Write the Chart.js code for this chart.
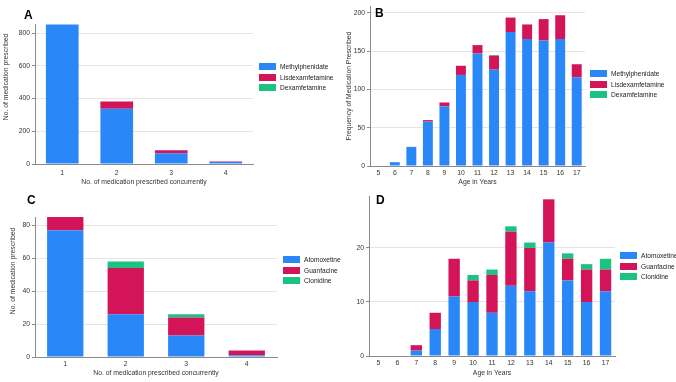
<!DOCTYPE html>
<html>
<head>
<meta charset="utf-8">
<script src="https://cdn.jsdelivr.net/npm/chart.js@4/dist/chart.umd.min.js"></script>
<style>
  body { margin: 0; background: #fff; width: 676px; height: 382px; overflow: hidden; position: relative;
         font-family: "Liberation Sans", Arial, sans-serif; }
  .panel { position: absolute; }
  .tag { position: absolute; font: bold 12px "Liberation Sans", Arial, sans-serif; color: #000; }
  .legend { position: absolute; font-size: 6.6px; color: #222; }
  .legend div { height: 10.5px; line-height: 7px; white-space: nowrap; }
  .legend span { display: inline-block; width: 17px; height: 7px; vertical-align: top; margin-right: 4px; }
  .ytitle { position: absolute; font-size: 6.8px; color: #333; white-space: nowrap;
            transform: translate(-50%, -50%) rotate(-90deg); }
</style>
</head>
<body>
<div class="panel" style="left:0;top:0"><canvas id="chartA" width="338" height="190"></canvas></div>
<div class="panel" style="left:338px;top:0"><canvas id="chartB" width="338" height="190"></canvas></div>
<div class="panel" style="left:0;top:190px"><canvas id="chartC" width="338" height="192"></canvas></div>
<div class="panel" style="left:338px;top:190px"><canvas id="chartD" width="338" height="192"></canvas></div>

<div class="tag" style="left:24px;top:8px">A</div>
<div class="tag" style="left:375px;top:6px">B</div>
<div class="tag" style="left:27px;top:193px">C</div>
<div class="tag" style="left:376px;top:193px">D</div>

<div class="ytitle" style="left:5px;top:77px">No. of medication prescribed</div>
<div class="ytitle" style="left:12px;top:271px">No. of medication prescribed</div>

<div class="legend" id="legA" style="left:259px;top:63px"></div>
<div class="legend" id="legB" style="left:590px;top:70px"></div>
<div class="legend" id="legC" style="left:283px;top:256px"></div>
<div class="legend" id="legD" style="left:620px;top:252px"></div>

<script>
// colours
var BLUE = '#2a87f7', RED = '#d41459', GREEN = '#1cc27f';

// A: number of stimulant medications prescribed concurrently
var countCats = ['1', '2', '3', '4'];
var methylA = [852, 337, 65, 12];
var lisdexA = [0, 45, 19, 3];
var dexA = [0, 0, 0, 1];

// B: stimulants by age
var ages = ['5', '6', '7', '8', '9', '10', '11', '12', '13', '14', '15', '16', '17'];
var methylB = [0, 5, 25, 58, 78, 119, 147, 126, 175, 166, 164, 166, 116];
var lisdexB = [0, 0, 0, 2, 5, 12, 11, 18, 19, 19, 28, 31, 17];
var dexB = [0, 0, 0, 0, 0, 0, 0, 1, 0, 0, 0, 0, 0];

// C: non-stimulants, number prescribed concurrently
var atoC = [77, 26, 13, 1];
var guanC = [8, 28, 11, 3];
var cloC = [0, 4, 2, 0];

// D: non-stimulants by age
var atoD = [0, 0, 1, 5, 11, 10, 8, 13, 12, 21, 14, 10, 12];
var guanD = [0, 0, 1, 3, 7, 4, 7, 10, 8, 8, 4, 6, 4];
var cloD = [0, 0, 0, 0, 0, 1, 1, 1, 1, 0, 1, 1, 2];

var stimNames = ['Methylphenidate', 'Lisdexamfetamine', 'Dexamfetamine'];
var nonStimNames = ['Atomoxetine', 'Guanfacine', 'Clonidine'];
var colors = [BLUE, RED, GREEN];

var FONT = '"Liberation Sans", Arial, sans-serif';

function makeChart(id, cats, series, names, opt) {
    var datasets = series.map(function (s, i) {
        return { label: names[i], data: s, backgroundColor: colors[i], borderWidth: 0,
                 barPercentage: 0.6, categoryPercentage: 1 };
    });
    return new Chart(document.getElementById(id), {
        type: 'bar',
        data: { labels: cats, datasets: datasets },
        options: {
            responsive: false,
            animation: false,
            layout: { padding: opt.padding },
            plugins: { legend: { display: false }, tooltip: { enabled: false } },
            scales: {
                x: {
                    stacked: true,
                    grid: { display: false, drawTicks: false, tickLength: 0 },
                    border: { display: true, color: '#8a8a8a', width: 1 },
                    ticks: { color: '#333', font: { family: FONT, size: 6.8 }, padding: opt.xPad },
                    title: { display: true, text: opt.xTitle, color: '#333',
                             font: { family: FONT, size: 6.8 }, padding: { top: 0, bottom: opt.xTitlePad } },
                    afterFit: function (s) { s.height = opt.xH; }
                },
                y: {
                    stacked: true,
                    min: 0,
                    max: opt.max,
                    grid: { color: '#e4e4e4', borderDash: [3, 3], tickLength: 3,
                            tickColor: '#8a8a8a', tickBorderDash: [], drawTicks: true },
                    border: { display: true, color: '#8a8a8a', width: 1 },
                    ticks: { stepSize: opt.step, includeBounds: false, color: '#333',
                             font: { family: FONT, size: 6.8 }, padding: 2 },
                    title: { display: !!opt.yTitle, text: opt.yTitle, color: '#333',
                             font: { family: FONT, size: 6.8 }, padding: { top: opt.yTitlePad || 0, bottom: 0 } },
                    afterFit: function (s) { s.width = opt.yW; }
                }
            }
        }
    });
}

function makeLegend(id, names) {
    var el = document.getElementById(id);
    names.forEach(function (n, i) {
        var row = document.createElement('div');
        row.innerHTML = '<span style="background:' + colors[i] + '"></span>' + n;
        el.appendChild(row);
    });
}

makeChart('chartA', countCats, [methylA, lisdexA, dexA], stimNames, {
    padding: { top: 24, right: 85, left: 0, bottom: 0 }, xH: 26, yW: 35,
    max: 855, step: 200, xPad: 5, xTitlePad: 4,
    xTitle: 'No. of medication prescribed concurrently', yTitle: ''
});
makeChart('chartB', ages, [methylB, lisdexB, dexB], stimNames, {
    padding: { top: 1, right: 91, left: 0, bottom: 0 }, xH: 24, yW: 32,
    max: 209, step: 50, xPad: 3, xTitlePad: 4, yTitlePad: 7,
    xTitle: 'Age in Years', yTitle: 'Frequency of Medication Prescribed'
});
makeChart('chartC', countCats, [atoC, guanC, cloC], nonStimNames, {
    padding: { top: 27, right: 61, left: 0, bottom: 0 }, xH: 25, yW: 35,
    max: 85, step: 20, xPad: 3, xTitlePad: 5,
    xTitle: 'No. of medication prescribed concurrently', yTitle: ''
});
makeChart('chartD', ages, [atoD, guanD, cloD], nonStimNames, {
    padding: { top: 0, right: 61, left: 0, bottom: 0 }, xH: 26, yW: 31,
    max: 29.6, step: 10, xPad: 3, xTitlePad: 4.5,
    xTitle: 'Age in Years', yTitle: ''
});

makeLegend('legA', stimNames);
makeLegend('legB', stimNames);
makeLegend('legC', nonStimNames);
makeLegend('legD', nonStimNames);
</script>
</body>
</html>
